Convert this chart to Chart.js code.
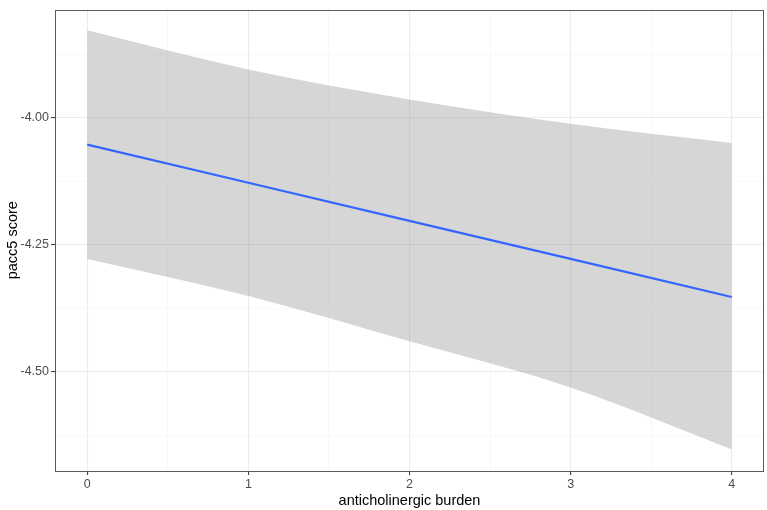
<!DOCTYPE html>
<html>
<head>
<meta charset="utf-8">
<script src="https://cdn.jsdelivr.net/npm/chart.js@4/dist/chart.umd.min.js"></script>
<style>
  html, body { margin: 0; padding: 0; background: #fff; }
  #wrap { width: 767px; height: 510px; }
</style>
</head>
<body>
<div id="wrap"><canvas id="c" width="767" height="510"></canvas></div>
<script>
// values
const burden = [0, 1, 2, 3, 4];
const fitLine = [-4.053, -4.128, -4.203, -4.278, -4.353];
const upperBand = [-3.828, -3.905, -3.964, -4.012, -4.050];
const lowerBand = [-4.278, -4.351, -4.440, -4.531, -4.653];
const xTicks = [0, 0.5, 1, 1.5, 2, 2.5, 3, 3.5, 4];
const yTicks = [-4.625, -4.5, -4.375, -4.25, -4.125, -4.0, -3.875];

const pts = (ys) => burden.map((x, i) => ({ x: x, y: ys[i] }));
const near = (v, step) => Math.abs(v / step - Math.round(v / step)) < 1e-6;
const xMajor = (v) => near(v, 1);
const yMajor = (v) => near(v, 0.25);

// panel border like theme_bw
const panelBorder = {
  id: 'panelBorder',
  afterDraw(chart) {
    const a = chart.chartArea, ctx = chart.ctx;
    ctx.save();
    ctx.strokeStyle = '#5a5a5a';
    ctx.lineWidth = 1;
    ctx.strokeRect(Math.round(a.left) + 0.5, Math.round(a.top) + 0.5,
      Math.round(a.right - a.left) - 1, Math.round(a.bottom - a.top) - 1);
    ctx.restore();
  }
};

const gridFor = (major) => ({
  color: (c) => major(c.tick.value) ? '#ebebeb' : '#f3f3f3',
  lineWidth: (c) => major(c.tick.value) ? 1.1 : 0.6,
  tickColor: (c) => major(c.tick.value) ? '#444444' : 'rgba(0,0,0,0)',
  tickLength: 4
});

new Chart(document.getElementById('c').getContext('2d'), {
  type: 'line',
  data: {
    datasets: [
      {
        data: pts(fitLine),
        borderColor: '#3366FF',
        borderWidth: 2.2,
        pointRadius: 0,
        fill: false
      },
      {
        data: pts(upperBand),
        borderWidth: 0,
        pointRadius: 0,
        cubicInterpolationMode: 'monotone',
        fill: '+1',
        backgroundColor: 'rgba(153,153,153,0.4)'
      },
      {
        data: pts(lowerBand),
        borderWidth: 0,
        pointRadius: 0,
        cubicInterpolationMode: 'monotone',
        fill: false
      }
    ]
  },
  plugins: [panelBorder],
  options: {
    responsive: false,
    animation: false,
    layout: { padding: { top: 3, right: 3, left: 0, bottom: 0 } },
    plugins: { legend: { display: false }, tooltip: { enabled: false } },
    scales: {
      x: {
        type: 'linear',
        min: -0.2,
        max: 4.2,
        afterBuildTicks: (s) => { s.ticks = xTicks.map(v => ({ value: v })); },
        afterFit: (s) => { s.height = 39; },
        border: { display: false },
        grid: gridFor(xMajor),
        ticks: {
          autoSkip: false,
          maxRotation: 0,
          padding: 2,
          color: '#4d4d4d',
          font: { family: 'Liberation Sans, Arial', size: 12.5 },
          callback: (v) => xMajor(v) ? String(v) : ''
        },
        title: {
          display: true,
          text: 'anticholinergic burden',
          color: '#000',
          font: { family: 'Liberation Sans, Arial', size: 14.5 },
          padding: { top: 1, bottom: 0 }
        }
      },
      y: {
        type: 'linear',
        min: -4.6955,
        max: -3.787,
        afterBuildTicks: (s) => { s.ticks = yTicks.map(v => ({ value: v })); },
        afterFit: (s) => { s.width = 55; },
        border: { display: false },
        grid: gridFor(yMajor),
        ticks: {
          autoSkip: false,
          padding: 2,
          color: '#4d4d4d',
          font: { family: 'Liberation Sans, Arial', size: 12.5 },
          callback: (v) => yMajor(v) ? v.toFixed(2) : ''
        },
        title: {
          display: true,
          text: 'pacc5 score',
          color: '#000',
          font: { family: 'Liberation Sans, Arial', size: 14.5 },
          padding: { top: 4, bottom: 0 }
        }
      }
    }
  }
});
</script>
</body>
</html>
